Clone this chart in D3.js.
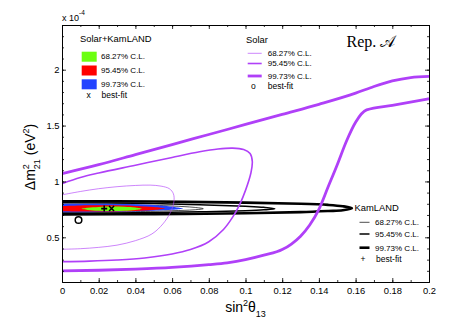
<!DOCTYPE html>
<html>
<head>
<meta charset="utf-8">
<script src="https://cdn.jsdelivr.net/npm/d3@7"></script>
<style>
body { margin: 0; background: #fff; }
svg text { font-family: "Liberation Sans", Arial, Helvetica, sans-serif; fill: #000; }
</style>
</head>
<body>
<svg id="chart" width="474" height="321"></svg>
<script>
// values in units of 1e-4 eV^2 on the y axis
var xTickValues = [0, 0.02, 0.04, 0.06, 0.08, 0.1, 0.12, 0.14, 0.16, 0.18, 0.2];
var yTickValues = [0.5, 1, 1.5, 2];
var levelLabels = ["68.27% C.L.", "95.45% C.L.", "99.73% C.L."];

// Solar contours (open towards sin^2 = 0)
var solar1s = [[0,0.88],[0.01,0.91],[0.02,0.935],[0.03,0.953],[0.04,0.964],[0.048,0.967],[0.054,0.958],
  [0.0585,0.935],[0.0607,0.89],[0.061,0.82],[0.059,0.72],[0.055,0.62],[0.049,0.53],[0.04,0.47],
  [0.03,0.43],[0.02,0.41],[0.01,0.398],[0,0.393]];
var solar2s = [[0,0.98],[0.01,1.035],[0.02,1.075],[0.04,1.145],[0.06,1.215],[0.075,1.265],[0.085,1.29],
  [0.093,1.298],[0.099,1.285],[0.1025,1.25],[0.1037,1.18],[0.103,1.08],[0.1,0.92],[0.097,0.8],
  [0.093,0.68],[0.088,0.57],[0.08,0.46],[0.07,0.39],[0.06,0.35],[0.045,0.315],[0.03,0.297],
  [0.015,0.287],[0,0.282]];
var solar3sUpper = [[0,1.07],[0.02,1.15],[0.04,1.24],[0.06,1.33],[0.08,1.42],[0.1,1.51],[0.12,1.6],
  [0.14,1.69],[0.16,1.79],[0.17,1.85],[0.18,1.9],[0.19,1.93],[0.2,1.94]];
var solar3sLower = [[0,0.2],[0.02,0.205],[0.04,0.215],[0.06,0.23],[0.08,0.255],[0.09,0.272],[0.1,0.3],
  [0.11,0.34],[0.12,0.39],[0.125,0.44],[0.13,0.51],[0.135,0.61],[0.14,0.75],[0.145,0.95],[0.15,1.15],
  [0.155,1.36],[0.16,1.53],[0.166,1.64],[0.18,1.68],[0.2,1.74]];

// KamLAND contours
var kam1s = [[0,0.795],[0.04,0.79],[0.06,0.78],[0.072,0.768],[0.077,0.756],
  [0.072,0.746],[0.06,0.738],[0.04,0.73],[0,0.727]];
var kam2s = [[0,0.81],[0.04,0.805],[0.075,0.792],[0.1,0.777],[0.11,0.768],[0.116,0.756],
  [0.11,0.746],[0.1,0.738],[0.075,0.728],[0.04,0.72],[0,0.717]];
var kam3s = [[0,0.822],[0.05,0.82],[0.1,0.81],[0.13,0.8],[0.145,0.79],[0.153,0.778],[0.158,0.76],
  [0.153,0.742],[0.145,0.735],[0.13,0.725],[0.1,0.715],[0.05,0.707],[0,0.705]];

// Solar+KamLAND allowed regions
var fit1s = [[0.0107,0.755],[0.014,0.765],[0.02,0.772],[0.027,0.775],[0.034,0.773],[0.04,0.766],
  [0.0434,0.755],[0.04,0.744],[0.034,0.737],[0.027,0.735],[0.02,0.738],[0.014,0.745]];
var fit2s = [[0,0.78],[0.01,0.785],[0.025,0.786],[0.04,0.781],[0.05,0.771],[0.056,0.757],
  [0.05,0.744],[0.04,0.735],[0.025,0.731],[0.01,0.731],[0,0.733]];
var fit3s = [[0,0.8],[0.02,0.8],[0.04,0.795],[0.055,0.783],[0.062,0.77],[0.066,0.757],
  [0.062,0.748],[0.05,0.738],[0.035,0.73],[0.015,0.725],[0,0.724]];

var bestSolar = [0.009, 0.655];
var bestKam = [0.023, 0.757];
var bestFit = [0.027, 0.757];

var purple = "#b040f8";
var fillColors = ["#6cff10", "#ff0000", "#2343ff"];

var svg = d3.select("#chart");
var plotLeft = 62, plotRight = 429, plotTop = 25, plotBottom = 282;

var x = d3.scaleLinear().domain([0, 0.2]).range([plotLeft, plotRight]);
var y = d3.scaleLinear().domain([0.1, 2.4]).range([plotBottom, plotTop]);

svg.append("clipPath").attr("id", "plot")
  .append("rect").attr("x", plotLeft).attr("y", plotTop)
  .attr("width", plotRight - plotLeft).attr("height", plotBottom - plotTop);

var smooth = d3.line().x(function(d) { return x(d[0]); }).y(function(d) { return y(d[1]); })
  .curve(d3.curveCatmullRom.alpha(0.5));
var monotone = d3.line().x(function(d) { return x(d[0]); }).y(function(d) { return y(d[1]); })
  .curve(d3.curveMonotoneX);
var closedSmooth = d3.line().x(function(d) { return x(d[0]); }).y(function(d) { return y(d[1]); })
  .curve(d3.curveCatmullRomClosed.alpha(0.5));

var plot = svg.append("g").attr("clip-path", "url(#plot)");

// KamLAND (black)
[[kam1s, 0.7], [kam2s, 1.5], [kam3s, 2.6]].forEach(function(c) {
  plot.append("path").attr("d", smooth(c[0])).attr("fill", "none")
    .attr("stroke", "#000").attr("stroke-width", c[1]);
});

// Solar+KamLAND regions
plot.append("path").attr("d", smooth(fit3s) + "Z").attr("fill", fillColors[2]);
plot.append("path").attr("d", smooth(fit2s) + "Z").attr("fill", fillColors[1]);
plot.append("path").attr("d", closedSmooth(fit1s)).attr("fill", fillColors[0]);

// Solar (purple)
[[smooth(solar1s), 0.8, 0.8], [smooth(solar2s), 1.6, 1],
 [monotone(solar3sUpper), 2.8, 1], [monotone(solar3sLower), 2.8, 1]].forEach(function(c) {
  plot.append("path").attr("d", c[0]).attr("fill", "none")
    .attr("stroke", purple).attr("stroke-width", c[1]).attr("stroke-opacity", c[2]);
});

// best-fit markers
plot.append("circle").attr("cx", x(bestSolar[0])).attr("cy", y(bestSolar[1])).attr("r", 3.3)
  .attr("fill", "none").attr("stroke", "#000").attr("stroke-width", 1.5);
var s = 3;
plot.append("path")
  .attr("d", "M" + (x(bestKam[0]) - s) + "," + y(bestKam[1]) + "h" + 2 * s +
             "M" + x(bestKam[0]) + "," + (y(bestKam[1]) - s) + "v" + 2 * s)
  .attr("stroke", "#000").attr("stroke-width", 1.6);
plot.append("path")
  .attr("d", "M" + (x(bestFit[0]) - 2.5) + "," + (y(bestFit[1]) - 2.5) + "l5,5" +
             "M" + (x(bestFit[0]) - 2.5) + "," + (y(bestFit[1]) + 2.5) + "l5,-5")
  .attr("stroke", "#000").attr("stroke-width", 1.5);

// axes, ticks pointing inward
var minorX = d3.range(0, 21).map(function(i) { return i / 100; });
var minorY = d3.range(2, 25).map(function(i) { return i / 10; });

function styleAxis(g) {
  g.selectAll("line").attr("stroke", "#000").attr("stroke-width", 0.8);
  g.selectAll(".domain").attr("stroke", "#000").attr("stroke-width", 1);
  g.selectAll("text").style("font-size", "9.4px").attr("fill", "#000");
}

svg.append("g").attr("transform", "translate(0," + plotBottom + ")")
  .call(d3.axisBottom(x).tickValues(minorX).tickSizeInner(-2).tickSizeOuter(0).tickFormat(""))
  .call(styleAxis);
svg.append("g").attr("transform", "translate(0," + plotBottom + ")")
  .call(d3.axisBottom(x).tickValues(xTickValues).tickSizeInner(-4).tickSizeOuter(0).tickPadding(5)
    .tickFormat(function(d) { return String(d); }))
  .call(styleAxis);
svg.append("g").attr("transform", "translate(0," + plotTop + ")")
  .call(d3.axisTop(x).tickValues(minorX).tickSizeInner(-2).tickSizeOuter(0).tickFormat(""))
  .call(styleAxis);
svg.append("g").attr("transform", "translate(0," + plotTop + ")")
  .call(d3.axisTop(x).tickValues(xTickValues).tickSizeInner(-4).tickSizeOuter(0).tickFormat(""))
  .call(styleAxis);

svg.append("g").attr("transform", "translate(" + plotLeft + ",0)")
  .call(d3.axisLeft(y).tickValues(minorY).tickSizeInner(-2).tickSizeOuter(0).tickFormat(""))
  .call(styleAxis);
svg.append("g").attr("transform", "translate(" + plotLeft + ",0)")
  .call(d3.axisLeft(y).tickValues(yTickValues).tickSizeInner(-4).tickSizeOuter(0).tickPadding(2.5)
    .tickFormat(function(d) { return String(d); }))
  .call(styleAxis);
svg.append("g").attr("transform", "translate(" + plotRight + ",0)")
  .call(d3.axisRight(y).tickValues(minorY).tickSizeInner(-2).tickSizeOuter(0).tickFormat(""))
  .call(styleAxis);
svg.append("g").attr("transform", "translate(" + plotRight + ",0)")
  .call(d3.axisRight(y).tickValues(yTickValues).tickSizeInner(-4).tickSizeOuter(0).tickFormat(""))
  .call(styleAxis);

// scale factor
var sf = svg.append("text").attr("x", plotLeft).attr("y", 20.5).style("font-size", "9px");
sf.append("tspan").text("x 10");
sf.append("tspan").attr("dy", -6).style("font-size", "6.5px").text("-4");

// axis titles
var xt = svg.append("text").attr("x", 245.5).attr("y", 311.5).attr("text-anchor", "middle")
  .style("font-size", "14px");
xt.append("tspan").text("sin");
xt.append("tspan").attr("dy", -6).style("font-size", "9px").text("2");
xt.append("tspan").attr("dy", 6).text("θ");
xt.append("tspan").attr("dy", 5).style("font-size", "9px").text("13");

var yt = svg.append("text").attr("transform", "translate(35,157) rotate(-90)")
  .attr("text-anchor", "middle").style("font-size", "14px");
yt.append("tspan").text("Δm");
yt.append("tspan").attr("dy", -6).style("font-size", "9px").text("2");
yt.append("tspan").attr("dx", -5).attr("dy", 11).style("font-size", "9px").text("21");
yt.append("tspan").attr("dy", -5).text(" (eV");
yt.append("tspan").attr("dy", -6).style("font-size", "9px").text("2");
yt.append("tspan").attr("dy", 6).text(")");

// Solar+KamLAND legend
svg.append("text").attr("x", 80).attr("y", 42).style("font-size", "9.4px").text("Solar+KamLAND");
[0, 1, 2].forEach(function(i) {
  var ty = 51.7 + i * 13.8;
  svg.append("rect").attr("x", 81.7).attr("y", ty).attr("width", 15).attr("height", 10)
    .attr("fill", fillColors[i]);
  svg.append("text").attr("x", 101).attr("y", ty + 7.5).style("font-size", "8px").text(levelLabels[i]);
});
svg.append("text").attr("x", 88.5).attr("y", 98).attr("text-anchor", "middle").style("font-size", "8.5px").text("x");
svg.append("text").attr("x", 101.5).attr("y", 98.3).style("font-size", "8.5px").text("best-fit");

// Solar legend
svg.append("text").attr("x", 246).attr("y", 42.5).style("font-size", "9.4px").text("Solar");
[[0.8, 0.8], [1.6, 1], [2.8, 1]].forEach(function(w, i) {
  var ly = [53.3, 63.5, 76][i];
  svg.append("line").attr("x1", 247.7).attr("x2", 261.7).attr("y1", ly).attr("y2", ly)
    .attr("stroke", purple).attr("stroke-width", w[0]).attr("stroke-opacity", w[1]);
  svg.append("text").attr("x", 267.7).attr("y", ly + 2.8).style("font-size", "8px").text(levelLabels[i]);
});
svg.append("text").attr("x", 253.3).attr("y", 89).attr("text-anchor", "middle").style("font-size", "8.5px").text("o");
svg.append("text").attr("x", 267.7).attr("y", 89.3).style("font-size", "8.5px").text("best-fit");

// KamLAND legend
svg.append("text").attr("x", 354.5).attr("y", 210.5).style("font-size", "9.4px").text("KamLAND");
[0.7, 1.5, 2.6].forEach(function(w, i) {
  var ly = [222.3, 234, 247.7][i];
  svg.append("line").attr("x1", 359.5).attr("x2", 369.5).attr("y1", ly).attr("y2", ly)
    .attr("stroke", "#000").attr("stroke-width", w);
  svg.append("text").attr("x", 375).attr("y", ly + 2.8).style("font-size", "8px").text(levelLabels[i]);
});
svg.append("text").attr("x", 363).attr("y", 262).attr("text-anchor", "middle").style("font-size", "8.5px").text("+");
svg.append("text").attr("x", 376).attr("y", 261.5).style("font-size", "8.5px").text("best-fit");

// scenario tag
var tag = svg.append("text").attr("x", 346.5).attr("y", 47.3)
  .style("font-family", "'Liberation Serif', 'DejaVu Serif', serif").style("font-size", "16px");
tag.append("tspan").text("Rep. ");
tag.append("tspan").style("font-family", "'DejaVu Serif', 'Liberation Serif', serif").text("𝒜");
</script>
</body>
</html>
